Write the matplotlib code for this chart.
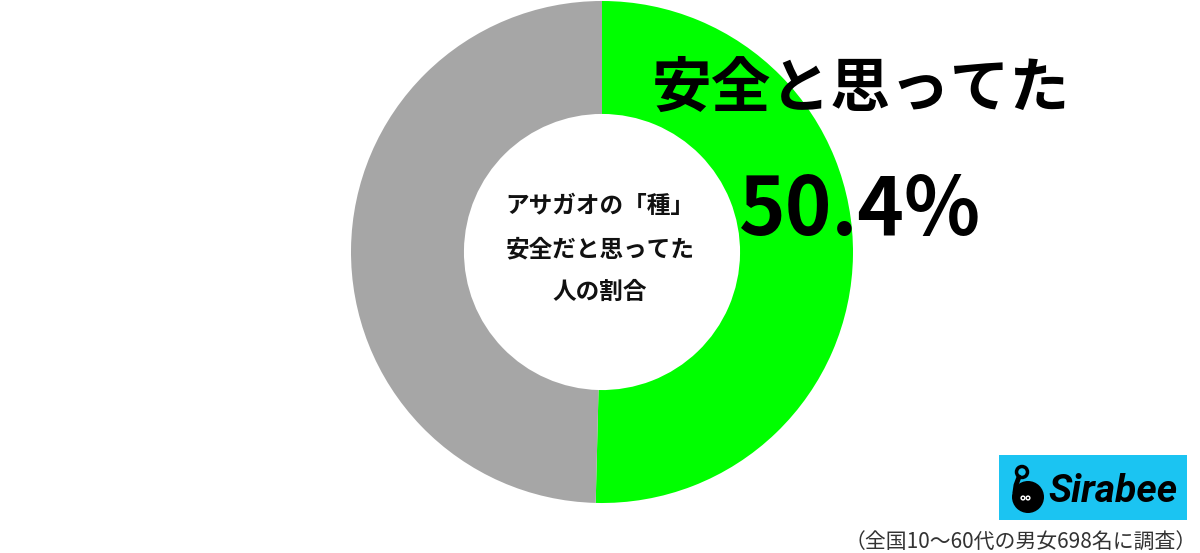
import matplotlib
matplotlib.use("Agg")
import matplotlib.pyplot as plt
from matplotlib.patches import Rectangle, Circle

plt.rcParams['font.family'] = ['Noto Sans CJK JP', 'DejaVu Sans']

# data
labels = ["安全と思ってた", "その他"]
values = [50.4, 49.6]
colors = ["#00FF00", "#A6A6A6"]
center_lines = ["アサガオの「種」", "安全だと思ってた", "人の割合"]
title_label = "安全と思ってた"
pct_label = "50.4%"
footnote = "（全国10〜60代の男女698名に調査）"

W, H = 1200, 553
fig = plt.figure(figsize=(W / 100, H / 100), dpi=100)
fig.patch.set_facecolor("white")

def fx(x):
    return x / W

def fy(y):
    return 1 - y / H

# donut
cx, cy, R = 602, 252, 251
ax = fig.add_axes([fx(cx - R), fy(cy + R), 2 * R / W, 2 * R / H])
ax.pie(values, colors=colors, startangle=90, counterclock=False, radius=1.0,
       wedgeprops=dict(width=0.45, edgecolor="none"))
ax.set_xlim(-1, 1)
ax.set_ylim(-1, 1)
ax.set_aspect("equal")
ax.axis("off")

# center text
for ypix, line in zip([206, 249, 292], center_lines):
    fig.text(fx(600), fy(ypix), line, ha="center", va="center",
             fontsize=17, fontweight="bold", color="#111111")

# big labels
fig.text(fx(861), fy(90), title_label, ha="center", va="center",
         fontsize=43, fontweight="bold", color="#000000")
fig.text(fx(860), fy(212), pct_label, ha="center", va="center",
         fontsize=57, fontweight="bold", color="#000000")

# footnote
fig.text(fx(1197), fy(542), footnote, ha="right", va="center",
         fontsize=15, color="#333333")

# logo
lax = fig.add_axes([0, 0, 1, 1], facecolor="none")
lax.set_xlim(0, W)
lax.set_ylim(H, 0)
lax.axis("off")
lax.add_patch(Rectangle((999, 455), 188, 65, facecolor="#1BC4F2", edgecolor="none"))
lax.add_patch(Circle((1028, 497), 16, facecolor="black", edgecolor="none"))
lax.add_patch(Circle((1022, 472), 5.5, facecolor="none", edgecolor="black", linewidth=2.5))
lax.plot([1019, 1016, 1015], [477, 485, 492], color="black", linewidth=3.5, solid_capstyle="round")
lax.add_patch(Circle((1023, 498), 2.6, facecolor="white", edgecolor="none"))
lax.add_patch(Circle((1028, 498), 2.6, facecolor="white", edgecolor="none"))
lax.add_patch(Circle((1023, 498), 1.1, facecolor="black", edgecolor="none"))
lax.add_patch(Circle((1028, 498), 1.1, facecolor="black", edgecolor="none"))
lax.text(1113, 491, "Sirabee", ha="center", va="center", fontsize=28,
         fontweight="bold", fontstyle="italic", color="black",
         family=["Roboto", "DejaVu Sans"])

fig.savefig("out.png", dpi=100, facecolor="white")
